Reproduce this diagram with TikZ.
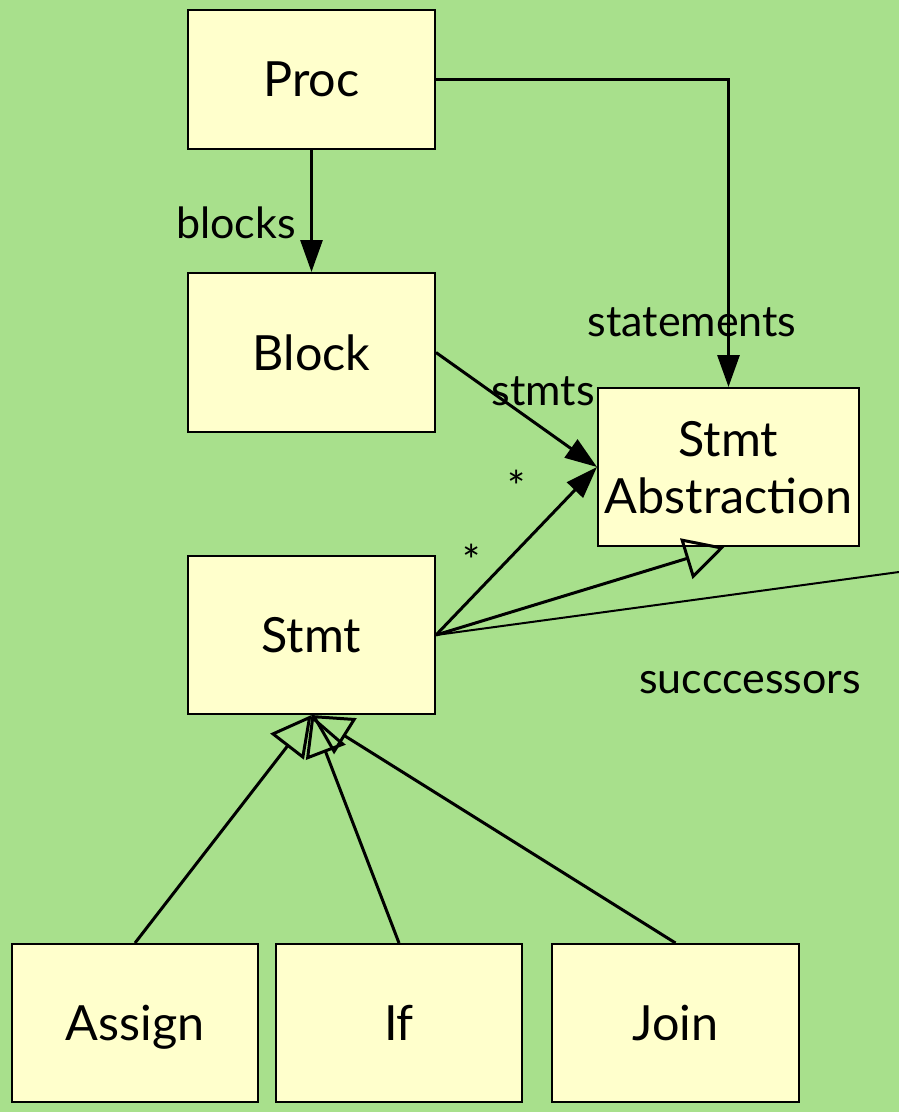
\documentclass[tikz,border=0pt]{standalone}
\usepackage{fontspec}
\setmainfont{Lato}
\usetikzlibrary{arrows.meta}
\definecolor{bggreen}{RGB}{168,224,140}
\definecolor{boxyellow}{RGB}{255,255,204}
\tikzset{
  cls/.style={draw, line width=2pt, fill=boxyellow, align=center,
    inner sep=0pt, text depth=0pt, font=\fontsize{48.5}{57}\selectfont},
  lbl/.style={inner sep=0pt, font=\fontsize{43}{50}\selectfont},
  assoc/.style={line width=3pt, -{Triangle[length=32pt,width=22pt]}},
  inherit/.style={line width=3pt, -{Triangle[open,length=40pt,width=42pt]}},
}
\begin{document}
\begin{tikzpicture}[x=1pt,y=-1pt]
      \fill[bggreen] (0,0) rectangle (899,1112);
      \useasboundingbox (0,0) rectangle (899,1112);
      \draw
        (311.5,79.5) node[cls,minimum width=247pt,minimum height=139pt] (proc){Proc}
        (311.5,352.5) node[cls,minimum width=247pt,minimum height=159pt] (block){Block}
        (728.5,467) node[cls,minimum width=261pt,minimum height=158pt] (abs){Stmt\\Abstraction}
        (311.5,635) node[cls,minimum width=247pt,minimum height=158pt] (stmt){Stmt}
        (135,1023) node[cls,minimum width=246pt,minimum height=158pt] (assign){Assign}
        (399,1023) node[cls,minimum width=246pt,minimum height=158pt] (if){If}
        (675.5,1023) node[cls,minimum width=247pt,minimum height=158pt] (join){Join};
      \coordinate (succ) at (899,572);
      \begin{scope}[assoc]
        \draw (proc) to (block);
        \draw (proc.east) -| (abs.north);
        \draw (block.east) to (abs.west);
        \draw (stmt.east) to (abs.west);
      \end{scope}
      \begin{scope}[inherit]
        \draw (stmt.east) to ([xshift=-4pt]abs.south);
        \draw (assign.north) to (stmt.south);
        \draw (if.north) to (stmt.south);
        \draw (join.north) to (stmt.south);
      \end{scope}
      \draw[line width=2pt] (stmt.east) -- (succ);
      \draw
        (236,222.5) node[lbl] (blocks){blocks}
        (692,322) node[lbl] (statements){statements}
        (543,391) node[lbl] (stmts){stmts}
        (517,486) node[lbl] (many1){*}
        (472,560) node[lbl] (many2){*}
        (750,683) node[lbl] (successors){succcessors};
    \end{tikzpicture}
\end{document}
